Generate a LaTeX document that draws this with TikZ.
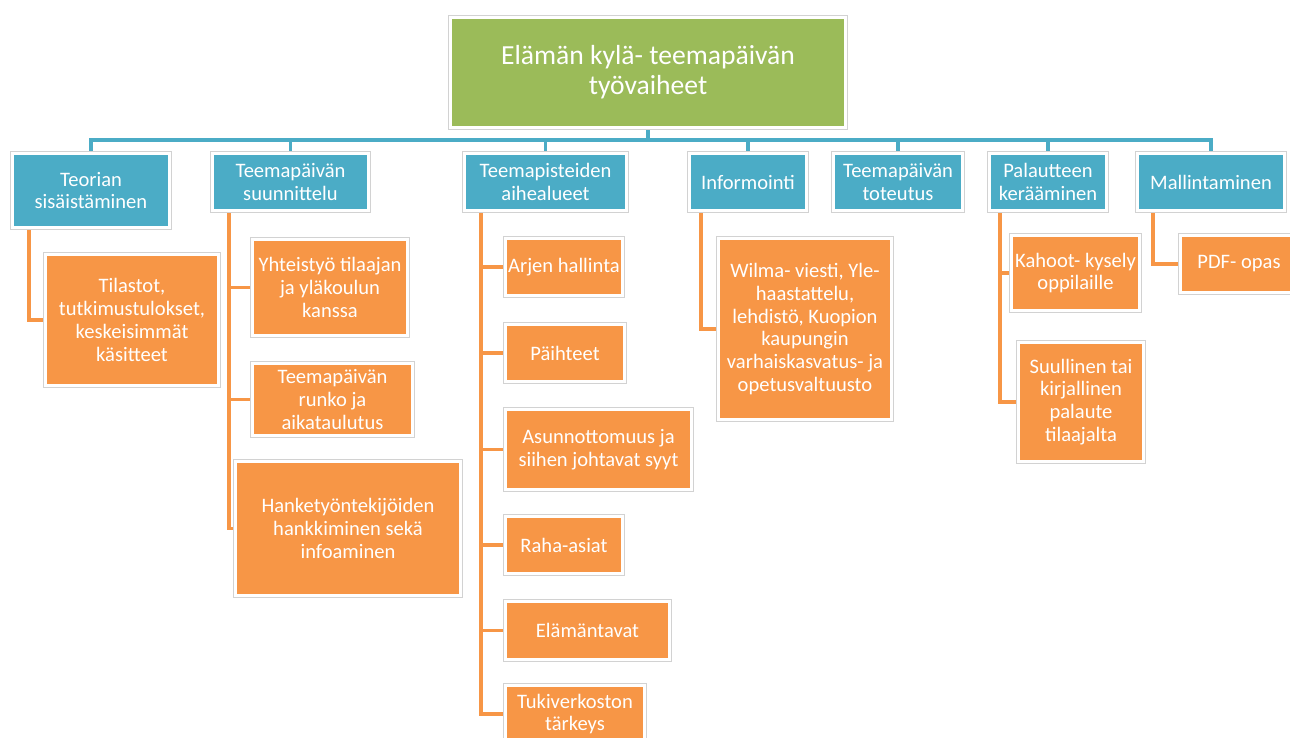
\documentclass[tikz,border=0pt]{standalone}
\usepackage{fontspec}
\setmainfont{Carlito}
\usetikzlibrary{backgrounds}

\definecolor{officegreen}{HTML}{9BBB59}
\definecolor{officeblue}{HTML}{4BACC6}
\definecolor{officeorange}{HTML}{F79646}

\tikzset{
  framed/.style={draw=white, line width=1.7pt, text=white, align=center, inner sep=0pt,
    preaction={draw=gray!35, line width=2.9pt}},
  rootbox/.style={framed, fill=officegreen, font=\fontsize{15.7}{17}\selectfont},
  topbox/.style={framed, fill=officeblue, font=\fontsize{11.7}{12.6}\selectfont},
  subbox/.style={framed, fill=officeorange, font=\fontsize{11.7}{13}\selectfont},
  toplink/.style={officeblue, line width=1.8pt},
  sublink/.style={officeorange, line width=1.8pt},
}

\begin{document}
\begin{tikzpicture}[x=0.02cm, y=-0.02cm]
  \useasboundingbox (0,0) rectangle (1290,737);
  \clip (0,0) rectangle (1290,737);

  % Pääotsikko
  \node[rootbox, minimum width=7.9cm, minimum height=2.2cm] (root) at (648,72.5)
    {Elämän kylä- teemapäivän\\työvaiheet};

  % Työvaiheet
  \node[topbox, minimum width=3.14cm, minimum height=1.48cm] (t1) at (91,190.5) {Teorian\\sisäistäminen};
  \node[topbox, minimum width=3.12cm, minimum height=1.14cm] (t2) at (290.5,182) {Teemapäivän\\suunnittelu};
  \node[topbox, minimum width=3.24cm, minimum height=1.14cm] (t3) at (545.5,182) {Teemapisteiden\\aihealueet};
  \node[topbox, minimum width=2.34cm, minimum height=1.14cm] (t4) at (748,182) {Informointi};
  \node[topbox, minimum width=2.58cm, minimum height=1.14cm] (t5) at (898,182) {Teemapäivän\\toteutus};
  \node[topbox, minimum width=2.34cm, minimum height=1.14cm] (t6) at (1048,182) {Palautteen\\kerääminen};
  \node[topbox, minimum width=2.94cm, minimum height=1.14cm] (t7) at (1211,182) {Mallintaminen};

  % Teoria
  \node[subbox, minimum width=3.46cm, minimum height=2.62cm] (a1) at (132,320)
    {Tilastot,\\tutkimustulokset,\\keskeisimmät\\käsitteet};

  % Suunnittelu
  \node[subbox, minimum width=3.1cm, minimum height=1.92cm] (b1) at (330,287.5)
    {Yhteistyö tilaajan\\ja yläkoulun\\kanssa};
  \node[subbox, minimum width=3.2cm, minimum height=1.44cm] (b2) at (332.5,399.5)
    {Teemapäivän\\runko ja\\aikataulutus};
  \node[subbox, minimum width=4.5cm, minimum height=2.68cm] (b3) at (348,528.5)
    {Hanketyöntekijöiden\\hankkiminen sekä\\infoaminen};

  % Aihealueet
  \node[subbox, minimum width=2.34cm, minimum height=1.14cm] (c1) at (564,267) {Arjen hallinta};
  \node[subbox, minimum width=2.38cm, minimum height=1.14cm] (c2) at (565,353) {Päihteet};
  \node[subbox, minimum width=3.72cm, minimum height=1.6cm] (c3) at (598.5,449.5)
    {Asunnottomuus ja\\siihen johtavat syyt};
  \node[subbox, minimum width=2.34cm, minimum height=1.14cm] (c4) at (564,545) {Raha-asiat};
  \node[subbox, minimum width=3.28cm, minimum height=1.16cm] (c5) at (587.5,630.5) {Elämäntavat};
  \node[subbox, minimum width=2.78cm, minimum height=1.14cm] (c6) at (575,714) {Tukiverkoston\\tärkeys};

  % Informointi
  \node[subbox, minimum width=3.46cm, minimum height=3.62cm] (d1) at (805,329)
    {Wilma- viesti, Yle-\\haastattelu,\\lehdistö, Kuopion\\kaupungin\\varhaiskasvatus- ja\\opetusvaltuusto};

  % Palaute
  \node[subbox, minimum width=2.56cm, minimum height=1.5cm] (e1) at (1075.5,273) {Kahoot- kysely\\oppilaille};
  \node[subbox, minimum width=2.5cm, minimum height=2.38cm] (e2) at (1081,402)
    {Suullinen tai\\kirjallinen\\palaute\\tilaajalta};

  % Mallintaminen
  \node[subbox, minimum width=2.34cm, minimum height=1.14cm] (f1) at (1239,264) {PDF- opas};

  \begin{scope}[on background layer]
    % Yhdyslinjat
    \coordinate (bus) at (0,140);
    \draw[toplink] (t1.north) |- (root.south |- bus) -| (t7.north);
    \draw[toplink] (root.south) -- (root.south |- bus);
    \foreach \n in {t2,t3,t4,t5,t6}
      \draw[toplink] (\n.north |- bus) -- (\n.north);

    \draw[sublink] ([xshift=0.36cm]t1.south west) |- (a1.west);
    \draw[sublink] ([xshift=0.36cm]t2.south west) |- (b3.west);
    \foreach \n in {b1,b2}
      \draw[sublink] ([xshift=0.36cm]t2.south west |- \n.west) -- (\n.west);
    \draw[sublink] ([xshift=0.36cm]t3.south west) |- (c6.west);
    \foreach \n in {c1,c2,c3,c4,c5}
      \draw[sublink] ([xshift=0.36cm]t3.south west |- \n.west) -- (\n.west);
    \draw[sublink] ([xshift=0.26cm]t4.south west) |- (d1.west);
    \draw[sublink] ([xshift=0.24cm]t6.south west) |- (e2.west);
    \draw[sublink] ([xshift=0.24cm]t6.south west |- e1.west) -- (e1.west);
    \draw[sublink] ([xshift=0.34cm]t7.south west) |- (f1.west);
  \end{scope}
\end{tikzpicture}
\end{document}
